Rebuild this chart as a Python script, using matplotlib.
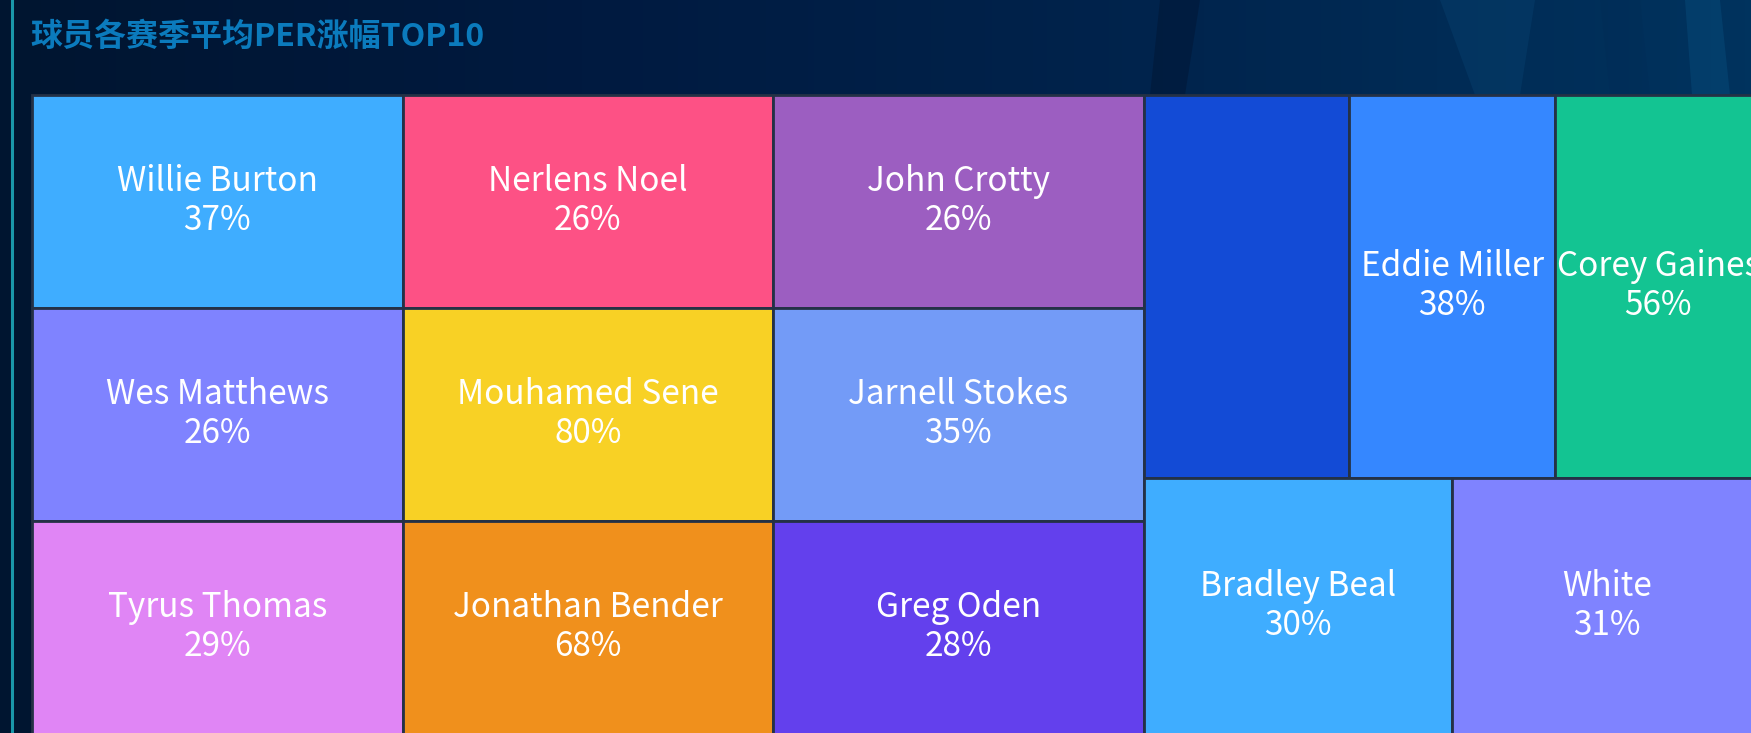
import numpy as np
import matplotlib.pyplot as plt
from matplotlib.patches import Rectangle, Polygon
from matplotlib.colors import LinearSegmentedColormap

plt.rcParams['font.family'] = ['Noto Sans CJK SC', 'DejaVu Sans']

TITLE = '球员各赛季平均PER涨幅TOP10'

# treemap items, in data order
names = ['Willie Burton', 'Wes Matthews', 'Tyrus Thomas',
         'Nerlens Noel', 'Mouhamed Sene', 'Jonathan Bender',
         'John Crotty', 'Jarnell Stokes', 'Greg Oden',
         '', 'Eddie Miller', 'Corey Gaines',
         'Bradley Beal', 'White']
growth = [37, 26, 29, 26, 80, 68, 26, 35, 28, None, 38, 56, 30, 31]
sizes = [1, 1, 1, 1, 1, 1, 1, 1, 1, 1, 1, 1, 1, 1]
colors = ['#3fadff', '#7f83ff', '#e085f5',
          '#fd5185', '#f8d125', '#f0901c',
          '#9c5ec1', '#739bf7', '#6340ed',
          '#134bd6', '#3587ff', '#13c492',
          '#3fadff', '#7f83ff']

W_PX, H_PX = 1751, 733
GOLDEN = 0.5 * (1 + 5 ** 0.5)


def squarify(values, x, y, w, h, ratio=GOLDEN):
    # same idea as the echarts treemap squarify
    total = float(sum(values))
    areas = [v * w * h / total for v in values]
    rect = [x, y, w, h]
    out = []

    def worst(row, fixed):
        s = sum(row)
        f = fixed * fixed * ratio
        return max(f * max(row) / (s * s), (s * s) / (f * min(row)))

    def place(row, fixed, flush):
        horiz = fixed == rect[2]
        other = sum(row) / fixed
        limit = rect[3] if horiz else rect[2]
        if flush or other > limit:
            other = limit
        pos = rect[0] if horiz else rect[1]
        for a in row:
            length = a / other
            if horiz:
                out.append((pos, rect[1], length, other))
            else:
                out.append((rect[0], pos, other, length))
            pos += length
        if horiz:
            rect[1] += other
            rect[3] -= other
        else:
            rect[0] += other
            rect[2] -= other

    row = []
    fixed = min(w, h)
    best = np.inf
    i = 0
    while i < len(areas):
        row.append(areas[i])
        score = worst(row, fixed)
        if score <= best:
            i += 1
            best = score
        else:
            row.pop()
            place(row, fixed, False)
            fixed = min(rect[2], rect[3])
            row = []
            best = np.inf
    if row:
        place(row, fixed, True)
    return out


fig = plt.figure(figsize=(W_PX / 100, H_PX / 100), dpi=100)
ax = fig.add_axes([0, 0, 1, 1])
ax.set_xlim(0, W_PX)
ax.set_ylim(H_PX, 0)
ax.axis('off')

# background
bg = LinearSegmentedColormap.from_list('bg', ['#001530', '#001a40', '#00244d', '#00335e'])
grad = np.linspace(0, 1, 256).reshape(1, -1)
ax.imshow(grad, cmap=bg, extent=[0, W_PX, H_PX, 0], aspect='auto', zorder=0)
streaks = [
    [(1160, 0), (1200, 0), (1185, 95), (1150, 95)],
    [(1440, 0), (1535, 0), (1520, 95), (1475, 95)],
    [(1600, 0), (1640, 0), (1650, 95), (1610, 95)],
    [(1685, 0), (1720, 0), (1730, 95), (1692, 95)],
]
streak_cols = ['#000c22', '#0a4a7a', '#002a55', '#0b5a8c']
for pts, c in zip(streaks, streak_cols):
    ax.add_patch(Polygon(pts, closed=True, facecolor=c, edgecolor='none', alpha=0.3, zorder=1))

ax.plot([12, 12], [0, H_PX], color='#1a98aa', lw=2.2, zorder=2)

ax.text(30, 37, TITLE, color='#0b7bbd', fontsize=23, fontweight='bold',
        va='center', ha='left', zorder=3)

# treemap
tiles = squarify(sizes, 32, 95, 1729, 639)
for (x, y, w, h), name, g, c in zip(tiles, names, growth, colors):
    ax.add_patch(Rectangle((x, y), w, h, facecolor=c, edgecolor='#243146',
                           linewidth=2.0, zorder=3))
    if name:
        cx, cy = x + w / 2, y + h / 2
        ax.text(cx, cy - 20, name, color='white', fontsize=24, fontweight='medium',
                ha='center', va='center', zorder=4)
        ax.text(cx, cy + 19, f'{g}%', color='white', fontsize=24, fontweight='medium',
                ha='center', va='center', zorder=4)

fig.savefig('out.png', dpi=100, facecolor='#001530')
